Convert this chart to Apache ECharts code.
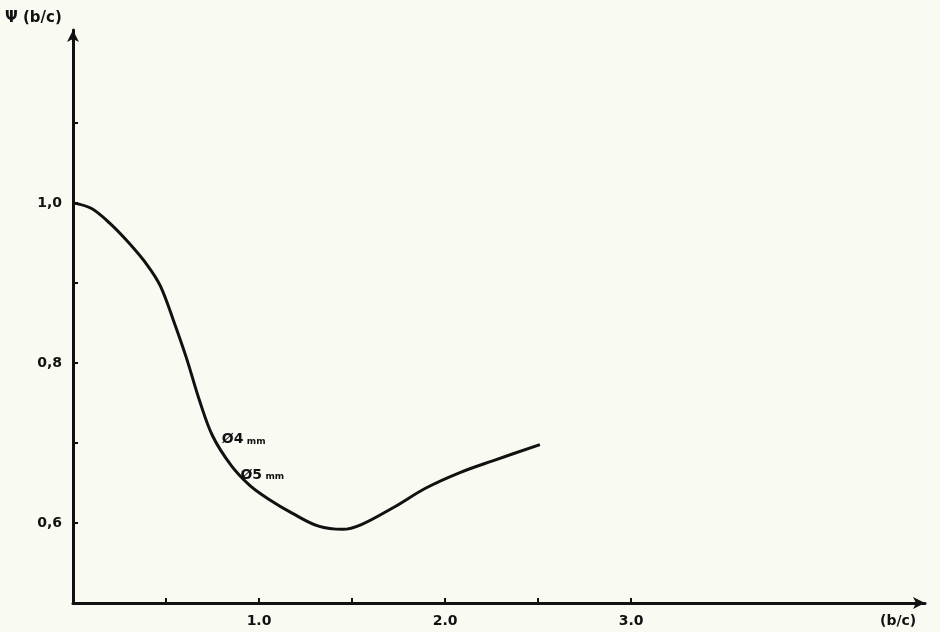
<!DOCTYPE html>
<html>
<head>
<meta charset="utf-8">
<script src="https://cdn.jsdelivr.net/npm/echarts@6/dist/echarts.min.js"></script>
<style>
html,body{margin:0;padding:0;background:#f9fbf3;}
#chart{width:940px;height:632px;}
</style>
</head>
<body>
<div id="chart"></div>
<script>
// Data
const ratioX = [0, 0.1, 0.2, 0.3, 0.4, 0.47, 0.54, 0.61, 0.68, 0.75, 0.85, 0.95, 1.05, 1.18, 1.32, 1.45, 1.55, 1.72, 1.9, 2.08, 2.26, 2.51];
const psiY   = [1.0, 0.993, 0.974, 0.950, 0.922, 0.896, 0.853, 0.806, 0.753, 0.709, 0.672, 0.647, 0.630, 0.612, 0.596, 0.592, 0.598, 0.619, 0.644, 0.663, 0.678, 0.698];
const xTickValues = [0.5, 1.0, 1.5, 2.0, 2.5, 3.0];
const xLabelValues = [1.0, 2.0, 3.0];
const yTickValues = [0.6, 0.7, 0.8, 0.9, 1.0, 1.1];
const yLabelValues = [0.6, 0.8, 1.0];
const annotations = [
  {text: 'Ø4', unit: 'mm', x: 0.80, y: 0.704},
  {text: 'Ø5', unit: 'mm', x: 0.90, y: 0.660}
];
const yAxisTitle = 'Ψ (b/c)';
const xAxisTitle = '(b/c)';

const font = 'DejaVu Sans';
const chart = echarts.init(document.getElementById('chart'));
chart.setOption({
  backgroundColor: '#f9fbf3',
  animation: false,
  grid: {left: 73, right: 15, top: 30, bottom: 29},
  xAxis: {
    type: 'value', min: 0, max: 4.58,
    splitLine: {show: false},
    axisLine: {lineStyle: {color: '#111', width: 3}, symbol: ['none', 'arrow'], symbolSize: [9, 12]},
    axisTick: {show: true, inside: true, length: 5, lineStyle: {color: '#111', width: 2}, customValues: xTickValues},
    axisLabel: {customValues: xLabelValues, formatter: v => v.toFixed(1), color: '#111', fontFamily: font, fontWeight: 'bold', fontSize: 14, margin: 11}
  },
  yAxis: {
    type: 'value', min: 0.5, max: 1.216,
    splitLine: {show: false},
    axisLine: {lineStyle: {color: '#111', width: 3}, symbol: ['none', 'arrow'], symbolSize: [9, 12]},
    axisTick: {show: true, inside: true, length: 5, lineStyle: {color: '#111', width: 2}, customValues: yTickValues},
    axisLabel: {customValues: yLabelValues, formatter: v => v.toFixed(1).replace('.', ','), color: '#111', fontFamily: font, fontWeight: 'bold', fontSize: 14, margin: 11}
  },
  graphic: [
    {type: 'text', left: 5, top: 11, style: {text: yAxisTitle, fill: '#111', font: 'bold 15px ' + font}},
    {type: 'text', left: 880, top: 614, style: {text: xAxisTitle, fill: '#111', font: 'bold 14px ' + font}}
  ],
  series: [{
    type: 'line',
    data: ratioX.map((x, i) => [x, psiY[i]]),
    smooth: 0.35,
    showSymbol: false,
    lineStyle: {color: '#111', width: 3},
    markPoint: {
      symbol: 'circle', symbolSize: 0,
      label: {
        show: true, position: 'right', distance: 0,
        formatter: p => '{a|' + p.data.t + '} {b|' + p.data.u + '}',
        rich: {
          a: {fontFamily: font, fontWeight: 'bold', fontSize: 14, color: '#111'},
          b: {fontFamily: font, fontWeight: 'bold', fontSize: 9, color: '#111', padding: [3, 0, 0, 0]}
        }
      },
      data: annotations.map(a => ({coord: [a.x, a.y], t: a.text, u: a.unit}))
    }
  }]
});
</script>
</body>
</html>
